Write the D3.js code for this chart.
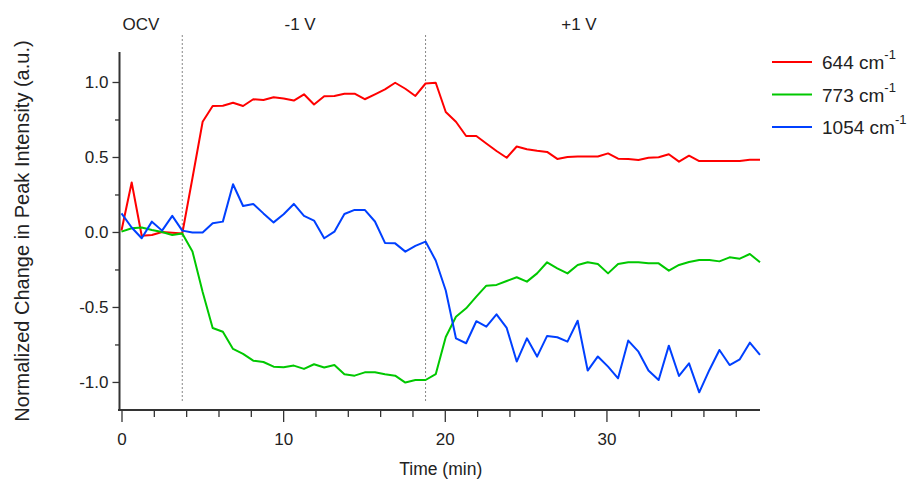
<!DOCTYPE html>
<html>
<head>
<meta charset="utf-8">
<script src="https://cdn.jsdelivr.net/npm/d3@7"></script>
<style>
  body { margin: 0; background: #fff; }
  svg text { font-family: Arial, "Liberation Sans", sans-serif; fill: #222; }
</style>
</head>
<body>
<svg id="chart" width="917" height="483"></svg>
<script>
// time (min) of each spectrum
const times = [0, 0.63, 1.25, 1.88, 2.51, 3.14, 3.76, 4.39, 5.02, 5.64,
  6.27, 6.90, 7.52, 8.15, 8.78, 9.41, 10.03, 10.66, 11.29, 11.91,
  12.54, 13.17, 13.79, 14.42, 15.05, 15.68, 16.30, 16.93, 17.56, 18.18,
  18.81, 19.44, 20.06, 20.69, 21.32, 21.95, 22.57, 23.20, 23.83, 24.45,
  25.08, 25.71, 26.33, 26.96, 27.59, 28.22, 28.84, 29.47, 30.10, 30.72,
  31.35, 31.98, 32.60, 33.23, 33.86, 34.49, 35.11, 35.74, 36.37, 36.99,
  37.62, 38.25, 38.87, 39.50];

const peak644 = [0.01, 0.33, -0.025, -0.02, 0.0, -0.005, -0.01, 0.36, 0.735, 0.84,
  0.842, 0.862, 0.84, 0.885, 0.88, 0.898, 0.89, 0.876, 0.918, 0.85,
  0.905, 0.907, 0.922, 0.922, 0.885, 0.918, 0.951, 0.995, 0.955, 0.907,
  0.99, 0.995, 0.80, 0.735, 0.64, 0.64, 0.59, 0.54, 0.495, 0.57,
  0.552, 0.541, 0.534, 0.487, 0.50, 0.503, 0.503, 0.503, 0.524, 0.489,
  0.487, 0.48, 0.495, 0.498, 0.518, 0.469, 0.509, 0.473, 0.473, 0.473,
  0.473, 0.473, 0.482, 0.482];

const peak773 = [0.002, 0.025, 0.03, 0.013, 0.0, -0.02, -0.01, -0.13, -0.40, -0.64,
  -0.665, -0.78, -0.813, -0.858, -0.867, -0.898, -0.902, -0.891, -0.913, -0.882,
  -0.904, -0.887, -0.949, -0.958, -0.936, -0.936, -0.949, -0.958, -1.004, -0.987,
  -0.987, -0.948, -0.70, -0.565, -0.509, -0.431, -0.358, -0.353, -0.327, -0.302,
  -0.331, -0.276, -0.202, -0.242, -0.276, -0.22, -0.202, -0.214, -0.276, -0.213,
  -0.202, -0.202, -0.209, -0.209, -0.258, -0.22, -0.20, -0.187, -0.187, -0.196,
  -0.169, -0.178, -0.147, -0.202];

const peak1054 = [0.124, 0.03, -0.042, 0.069, 0.009, 0.107, 0.009, -0.004, -0.004, 0.058,
  0.069, 0.318, 0.173, 0.187, 0.124, 0.064, 0.118, 0.187, 0.107, 0.076,
  -0.042, 0.002, 0.12, 0.147, 0.147, 0.07, -0.073, -0.076, -0.131, -0.093,
  -0.064, -0.19, -0.39, -0.709, -0.742, -0.595, -0.631, -0.549, -0.64, -0.864,
  -0.709, -0.831, -0.693, -0.702, -0.731, -0.592, -0.924, -0.83, -0.898, -0.976,
  -0.724, -0.798, -0.924, -0.987, -0.758, -0.96, -0.876, -1.069, -0.92, -0.787,
  -0.887, -0.849, -0.738, -0.82];

const seriesNames = ["644 cm", "773 cm", "1054 cm"];
const seriesColors = ["#ff0000", "#00c800", "#0040ff"];
const xTicks = [0, 10, 20, 30];
const xMinorTicks = [2, 4, 6, 8, 12, 14, 16, 18, 22, 24, 26, 28, 32, 34, 36, 38];
const yTicks = [-1.0, -0.5, 0.0, 0.5, 1.0];
const yMinorTicks = [-0.75, -0.25, 0.25, 0.75];
const stepTimes = [3.76, 18.81];
const phaseLabels = ["OCV", "-1 V", "+1 V"];
const phaseLabelTimes = [1.2, 11.05, 28.3];

const svg = d3.select("#chart");
const W = 917, H = 483;
const plot = { left: 119.5, right: 760, top: 52, bottom: 410 };

svg.append("rect").attr("width", W).attr("height", H).attr("fill", "#fff");

const x = d3.scaleLinear().domain([0, 39.5]).range([121.5, plot.right]);
const y = d3.scaleLinear().domain([-1.187, 1.2]).range([plot.bottom, plot.top]);

// step markers
svg.append("g")
  .selectAll("line")
  .data(stepTimes)
  .join("line")
  .attr("x1", d => x(d)).attr("x2", d => x(d))
  .attr("y1", 35).attr("y2", 403)
  .attr("stroke", "#888")
  .attr("stroke-width", 1)
  .attr("stroke-dasharray", "2,2");

// phase labels
svg.append("g")
  .selectAll("text")
  .data(phaseLabels)
  .join("text")
  .attr("x", (d, i) => x(phaseLabelTimes[i]))
  .attr("y", 30)
  .attr("text-anchor", "middle")
  .style("font-size", "17px")
  .text(d => d);

// x axis
const xAxisG = svg.append("g").attr("transform", `translate(0,${plot.bottom})`);
xAxisG.call(d3.axisBottom(x).tickValues(xTicks).tickSize(12).tickSizeOuter(0).tickFormat(d3.format("d")));
xAxisG.append("g").call(d3.axisBottom(x).tickValues(xMinorTicks).tickSize(7).tickFormat(""));
xAxisG.selectAll(".domain").remove();
xAxisG.selectAll("line").attr("stroke", "#333").attr("stroke-width", 1.3);
xAxisG.selectAll("text").attr("y", 23).attr("dy", "0.71em").style("font-size", "17px").attr("fill", "#222");
xAxisG.append("line").attr("x1", 118).attr("x2", plot.right).attr("y1", 0).attr("y2", 0)
  .attr("stroke", "#333").attr("stroke-width", 2);

// y axis
const yAxisG = svg.append("g").attr("transform", `translate(${plot.left},0)`);
yAxisG.call(d3.axisLeft(y).tickValues(yTicks).tickSize(7).tickPadding(4).tickFormat(d => d.toFixed(1)));
yAxisG.append("g").call(d3.axisLeft(y).tickValues(yMinorTicks).tickSize(4.5).tickFormat(""));
yAxisG.selectAll(".domain").remove();
yAxisG.selectAll("line").attr("stroke", "#333").attr("stroke-width", 1.3);
yAxisG.selectAll("text").style("font-size", "17px").attr("fill", "#222");
yAxisG.append("line").attr("x1", 0).attr("x2", 0).attr("y1", plot.top).attr("y2", plot.bottom)
  .attr("stroke", "#333").attr("stroke-width", 2);

// axis titles
svg.append("text")
  .attr("x", (121.5 + plot.right) / 2)
  .attr("y", 475)
  .attr("text-anchor", "middle")
  .style("font-size", "17.5px")
  .text("Time (min)");

svg.append("text")
  .attr("transform", `translate(29,231) rotate(-90)`)
  .attr("text-anchor", "middle")
  .style("font-size", "20px")
  .text("Normalized Change in Peak Intensity (a.u.)");

// traces
const allSeries = [peak644, peak773, peak1054];
const line = d3.line()
  .x((d, i) => x(times[i]))
  .y(d => y(d));

svg.append("g")
  .selectAll("path")
  .data(allSeries)
  .join("path")
  .attr("d", d => line(d))
  .attr("fill", "none")
  .attr("stroke", (d, i) => seriesColors[i])
  .attr("stroke-width", 2)
  .attr("stroke-linejoin", "round");

// legend
const legend = svg.append("g").attr("transform", "translate(772,62)");
const item = legend.selectAll("g")
  .data(seriesNames)
  .join("g")
  .attr("transform", (d, i) => `translate(0,${i * 32.5})`);
item.append("line")
  .attr("x1", 0).attr("x2", 40)
  .attr("stroke", (d, i) => seriesColors[i])
  .attr("stroke-width", 2);
const label = item.append("text")
  .attr("x", 50)
  .attr("y", 7)
  .style("font-size", "19px");
label.append("tspan").text(d => d);
label.append("tspan").attr("dy", -10).style("font-size", "13px").text("-1");
</script>
</body>
</html>
